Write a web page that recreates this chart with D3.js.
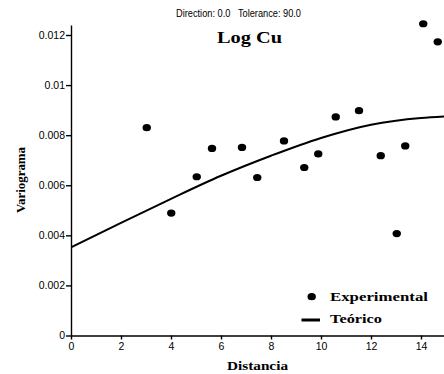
<!DOCTYPE html>
<html>
<head>
<meta charset="utf-8">
<script src="https://cdn.jsdelivr.net/npm/d3@7"></script>
<style>
  body { margin: 0; background: #fff; }
  svg { display: block; }
  .tick text { font-family: Arial, "Liberation Sans", sans-serif; font-size: 10.5px; fill: #000; }
  .tick line, .domain { stroke: #000; stroke-width: 1.4; }
  .serif { font-family: "Times New Roman", "Liberation Serif", serif; font-weight: bold; }
</style>
</head>
<body>
<div id="chart"></div>
<script>
// experimental semivariogram points
var lagDist = [3.03, 4.01, 5.03, 5.64, 6.84, 7.45, 8.52, 9.33, 9.89, 10.59, 11.52, 12.39, 13.03, 13.37, 14.09, 14.67];
var gammaExp = [0.00830, 0.00489, 0.00634, 0.00747, 0.00751, 0.00631, 0.00777, 0.00671, 0.00725, 0.00873, 0.00898, 0.00718, 0.00407, 0.00757, 0.01245, 0.01173];

// fitted model
var modelDist = [0, 2, 4, 6, 8, 10, 12, 14, 14.92];
var modelGamma = [0.00352, 0.00450, 0.00546, 0.00638, 0.00718, 0.00789, 0.00842, 0.00869, 0.00875];

var xTicks = [0, 2, 4, 6, 8, 10, 12, 14];
var yTicks = [0, 0.002, 0.004, 0.006, 0.008, 0.01, 0.012];
var yTickLabels = ["0", "0.002", "0.004", "0.006", "0.008", "0.01", "0.012"];

var width = 444, height = 374;

var x = d3.scaleLinear().domain([0, 14.92]).range([71, 444]);
var y = d3.scaleLinear().domain([0, 0.0124]).range([335.5, 25]);

var svg = d3.select("#chart").append("svg")
    .attr("width", width)
    .attr("height", height);

svg.append("clipPath").attr("id", "plotClip")
    .append("rect")
    .attr("x", x(0)).attr("y", y(0.0124))
    .attr("width", x(14.92) - x(0)).attr("height", y(0) - y(0.0124));

// axes
svg.append("g")
    .attr("transform", "translate(0," + y(0) + ")")
    .call(d3.axisBottom(x).tickValues(xTicks).tickSize(4).tickSizeOuter(0).tickPadding(3)
        .tickFormat(d => d));

svg.append("g")
    .attr("transform", "translate(" + x(0) + ",0)")
    .call(d3.axisLeft(y).tickValues(yTicks).tickSize(5).tickSizeOuter(0).tickPadding(1)
        .tickFormat((d, i) => yTickLabels[i]));

// model curve
var line = d3.line()
    .x((d, i) => x(modelDist[i]))
    .y(d => y(d))
    .curve(d3.curveMonotoneX);

svg.append("path")
    .datum(modelGamma)
    .attr("clip-path", "url(#plotClip)")
    .attr("fill", "none")
    .attr("stroke", "#000")
    .attr("stroke-width", 2)
    .attr("d", line);

// experimental points
svg.append("g").selectAll("ellipse")
    .data(gammaExp)
    .join("ellipse")
    .attr("cx", (d, i) => x(lagDist[i]))
    .attr("cy", d => y(d))
    .attr("rx", 4.2)
    .attr("ry", 3.6)
    .attr("fill", "#000");

// titles
svg.append("text")
    .attr("x", 176).attr("y", 16.5)
    .attr("textLength", 125).attr("lengthAdjust", "spacingAndGlyphs")
    .style("font-family", "Arial, 'Liberation Sans', sans-serif")
    .style("font-size", "10.5px")
    .style("white-space", "pre")
    .text("Direction: 0.0   Tolerance: 90.0");

svg.append("text").attr("class", "serif")
    .attr("x", 217).attr("y", 42.5)
    .attr("textLength", 65).attr("lengthAdjust", "spacingAndGlyphs")
    .style("font-size", "17.5px")
    .text("Log Cu");

svg.append("text").attr("class", "serif")
    .attr("x", 227).attr("y", 369.5)
    .attr("textLength", 61).attr("lengthAdjust", "spacingAndGlyphs")
    .style("font-size", "12px")
    .text("Distancia");

svg.append("text").attr("class", "serif")
    .attr("transform", "translate(25,213) rotate(-90)")
    .attr("textLength", 66).attr("lengthAdjust", "spacingAndGlyphs")
    .style("font-size", "12px")
    .text("Variograma");

// legend
var legend = svg.append("g");
legend.append("ellipse")
    .attr("cx", 311.7).attr("cy", 296.7)
    .attr("rx", 4.2).attr("ry", 3.6)
    .attr("fill", "#000");
legend.append("text").attr("class", "serif")
    .attr("x", 330).attr("y", 300.7)
    .attr("textLength", 98).attr("lengthAdjust", "spacingAndGlyphs")
    .style("font-size", "12px")
    .text("Experimental");
legend.append("line")
    .attr("x1", 301.5).attr("x2", 320)
    .attr("y1", 320).attr("y2", 320)
    .attr("stroke", "#000").attr("stroke-width", 3);
legend.append("text").attr("class", "serif")
    .attr("x", 330).attr("y", 323)
    .attr("textLength", 52).attr("lengthAdjust", "spacingAndGlyphs")
    .style("font-size", "12px")
    .text("Teórico");
</script>
</body>
</html>
